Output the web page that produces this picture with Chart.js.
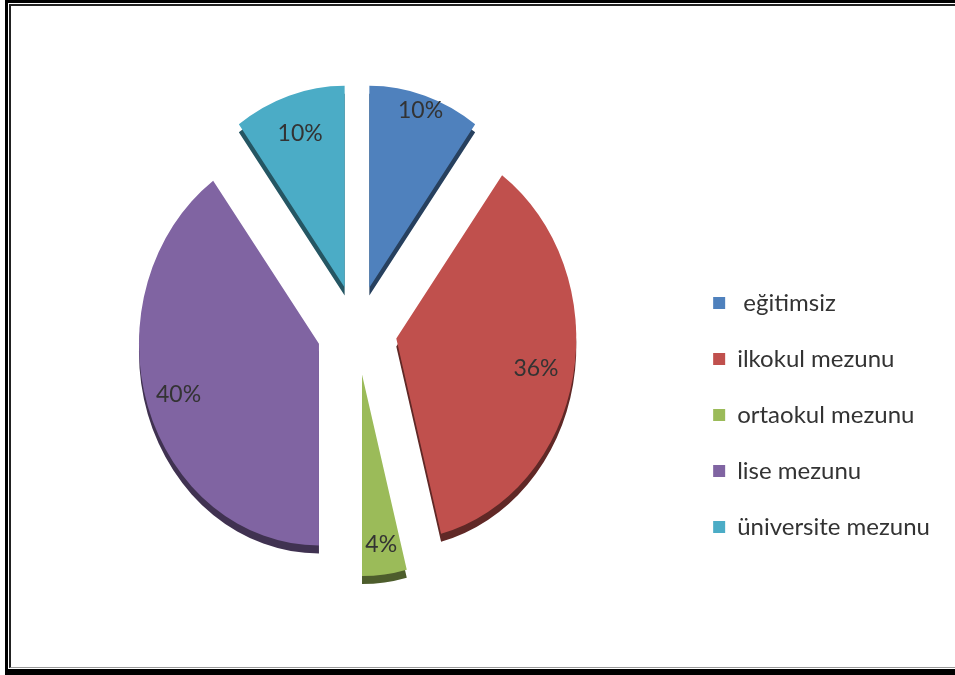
<!DOCTYPE html>
<html>
<head>
<meta charset="utf-8">
<script src="https://cdn.jsdelivr.net/npm/chart.js@4"></script>
<style>
    html, body { margin: 0; padding: 0; background: #fff; }
    #wrap { position: relative; width: 955px; height: 675px; overflow: hidden; }
    #frame { position: absolute; left: 5px; top: 0; width: 960px; height: 675px;
             border-left: 3px solid #000; border-top: 3px solid #000; border-bottom: 6px solid #000; box-sizing: border-box; }
    #frame2 { position: absolute; left: 1px; top: 1px; right: 0; bottom: 1px;
              border-left: 2px solid #222; border-top: 2px solid #222; border-bottom: 1px solid #999; }
    #chart { position: absolute; left: 0; top: 0; }
</style>
</head>
<body>
<div id="wrap">
    <div id="frame"><div id="frame2"></div></div>
    <canvas id="chart" width="955" height="675"></canvas>
</div>
<script>
var labels = [' eğitimsiz', 'ilkokul mezunu', 'ortaokul mezunu', 'lise mezunu', 'üniversite mezunu'];
var values = [10, 36, 4, 40, 10];
var colors = ['#4F81BD', '#C0504D', '#9BBB59', '#8064A2', '#4BACC6'];

// how far along the radius each percentage label sits
var labelRadius = [0.92, 0.79, 0.85, 0.82, 0.8];

var pieCenter = { x: 357, y: 330 };
var stretchY = 1.12;   // picture is taller than wide
var explode = 40;
var depth = 8;

var pie3d = {
    id: 'pie3d',
    beforeDatasetDraw: function () {
        return false; // drawn by hand below
    },
    afterDatasetsDraw: function (chart) {
        var ctx = chart.ctx;
        var arcs = chart.getDatasetMeta(0).data;
        var x0 = arcs[0].x, y0 = arcs[0].y;

        ctx.save();
        ctx.translate(pieCenter.x, pieCenter.y);
        ctx.scale(1, stretchY);
        ctx.translate(-x0, -y0);

        // side walls first
        arcs.forEach(function (arc) {
            var half = (arc.startAngle + arc.endAngle) / 2;
            ctx.save();
            ctx.translate(Math.cos(half) * explode, Math.sin(half) * explode + depth / stretchY);
            ctx.filter = 'brightness(0.5)';
            arc.draw(ctx);
            ctx.restore();
        });
        arcs.forEach(function (arc) {
            var half = (arc.startAngle + arc.endAngle) / 2;
            ctx.save();
            ctx.translate(Math.cos(half) * explode, Math.sin(half) * explode);
            arc.draw(ctx);
            ctx.restore();
        });
        ctx.restore();

        // percentage labels
        var total = values.reduce(function (a, b) { return a + b; }, 0);
        ctx.save();
        ctx.font = '23px Lato';
        ctx.fillStyle = '#333';
        ctx.textAlign = 'center';
        ctx.textBaseline = 'middle';
        arcs.forEach(function (arc, i) {
            var half = (arc.startAngle + arc.endAngle) / 2;
            var r = explode + arc.outerRadius * labelRadius[i];
            var px = pieCenter.x + Math.cos(half) * r;
            var py = pieCenter.y + Math.sin(half) * r * stretchY;
            ctx.fillText(Math.round(values[i] / total * 100) + '%', px, py);
        });
        ctx.restore();
    }
};

var chart = new Chart(document.getElementById('chart'), {
    type: 'pie',
    data: {
        labels: labels,
        datasets: [{
            data: values,
            backgroundColor: colors,
            borderWidth: 0,
            radius: 180,
            clip: false
        }]
    },
    options: {
        responsive: false,
        animation: false,
        events: [],
        layout: { padding: { top: 155, right: 15 } },
        plugins: {
            tooltip: { enabled: false },
            legend: {
                position: 'right',
                labels: {
                    boxWidth: 12,
                    boxHeight: 12,
                    padding: 32,
                    color: '#333',
                    font: { family: 'Lato', size: 24 }
                }
            }
        }
    },
    plugins: [pie3d]
});
</script>
</body>
</html>
